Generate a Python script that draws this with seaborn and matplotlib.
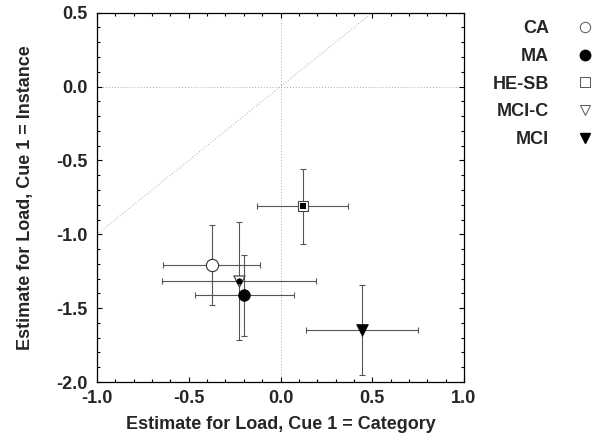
import matplotlib
matplotlib.use("Agg")
import matplotlib.pyplot as plt
import seaborn as sns
import pandas as pd
import numpy as np
from matplotlib.lines import Line2D
from matplotlib.ticker import MultipleLocator, FormatStrFormatter

# ---- data ----
groups = ["CA", "MA", "HE-SB", "MCI-C", "MCI"]
x_est = [-0.375, -0.197, 0.120, -0.224, 0.444]
y_est = [-1.207, -1.414, -0.809, -1.318, -1.648]
x_err = [0.263, 0.270, 0.250, 0.420, 0.307]
y_err = [0.269, 0.277, 0.254, 0.400, 0.303]

df = pd.DataFrame({"group": groups, "x": x_est, "y": y_est,
                   "xerr": x_err, "yerr": y_err})

sns.set_style("ticks")
plt.rcParams["font.family"] = ["Liberation Sans", "DejaVu Sans"]
plt.rcParams["font.weight"] = "bold"

FS = 13

fig = plt.figure(figsize=(6, 4.4), dpi=100)
ax = fig.add_axes([97 / 600, 1 - 382 / 440, 367 / 600, 369.3 / 440])

# reference lines
ref_kw = dict(color="#aaaaaa", lw=0.7, ls=(0, (1, 2)), zorder=0)
ax.axvline(0, **ref_kw)
ax.axhline(0, **ref_kw)
ax.axline((0, 0), slope=1, **ref_kw)

# error bars
ax.errorbar(df["x"], df["y"], xerr=df["xerr"], yerr=df["yerr"], fmt="none",
            ecolor="#555555", elinewidth=0.8, capsize=2.2, capthick=0.8, zorder=1)

styles = {
    "CA":    dict(marker="o", s=8.8 ** 2, facecolor="white", edgecolor="#333333", linewidth=0.8),
    "MA":    dict(marker="o", s=8.4 ** 2, facecolor="black", edgecolor="black", linewidth=0.5),
    "HE-SB": dict(marker="s", s=7.8 ** 2, facecolor="white", edgecolor="#444444", linewidth=0.8),
    "MCI-C": dict(marker="v", s=8.0 ** 2, facecolor="white", edgecolor="#333333", linewidth=0.8),
    "MCI":   dict(marker="v", s=8.5 ** 2, facecolor="black", edgecolor="black", linewidth=0.5),
}
for g in groups:
    sub = df[df["group"] == g]
    sns.scatterplot(data=sub, x="x", y="y", ax=ax, zorder=3, legend=False, **styles[g])

# small filled inner marks
inner = {"HE-SB": dict(marker="s", s=5.0 ** 2), "MCI-C": dict(marker="o", s=4.5 ** 2)}
for g, st in inner.items():
    sub = df[df["group"] == g]
    sns.scatterplot(data=sub, x="x", y="y", ax=ax, zorder=4, legend=False,
                    color="black", edgecolor="black", linewidth=0, **st)

ax.set_xlim(-1.0, 1.0)
ax.set_ylim(-2.0, 0.5)
ax.xaxis.set_major_locator(MultipleLocator(0.5))
ax.xaxis.set_minor_locator(MultipleLocator(0.1))
ax.yaxis.set_major_locator(MultipleLocator(0.5))
ax.yaxis.set_minor_locator(MultipleLocator(0.1))
ax.xaxis.set_major_formatter(FormatStrFormatter("%.1f"))
ax.yaxis.set_major_formatter(FormatStrFormatter("%.1f"))
ax.tick_params(which="both", direction="in", top=True, right=True, color="black", width=0.8)
ax.tick_params(which="major", length=3.8, labelsize=FS)
ax.tick_params(axis="x", which="major", pad=5.5)
ax.tick_params(axis="y", which="major", pad=7)
ax.tick_params(which="minor", length=2.2)
for lab in ax.get_xticklabels() + ax.get_yticklabels():
    lab.set_fontweight("bold")
for sp in ax.spines.values():
    sp.set_visible(True)
    sp.set_color("black")
    sp.set_linewidth(0.9)

ax.set_xlabel("Estimate for Load, Cue 1 = Category", fontsize=FS, fontweight="bold", labelpad=7)
ax.set_ylabel("Estimate for Load, Cue 1 = Instance", fontsize=FS, fontweight="bold", labelpad=16)

# legend
leg_style = {
    "CA":    dict(marker="o", markersize=7.5, markerfacecolor="white", markeredgecolor="#555555", markeredgewidth=0.7),
    "MA":    dict(marker="o", markersize=7.5, markerfacecolor="black", markeredgecolor="black"),
    "HE-SB": dict(marker="s", markersize=7.0, markerfacecolor="white", markeredgecolor="#555555", markeredgewidth=0.7),
    "MCI-C": dict(marker="v", markersize=7.5, markerfacecolor="white", markeredgecolor="#555555", markeredgewidth=0.7),
    "MCI":   dict(marker="v", markersize=7.5, markerfacecolor="black", markeredgecolor="black"),
}
handles = [Line2D([], [], ls="none", **leg_style[g]) for g in groups]
leg = fig.legend(handles, groups, loc="upper right", bbox_to_anchor=(594 / 600, 1 - 20 / 440),
                 frameon=False, markerfirst=False, handlelength=1.0, handletextpad=1.49,
                 labelspacing=0.6, borderpad=0, borderaxespad=0,
                 prop={"family": "Liberation Sans", "weight": "bold", "size": FS})

fig.savefig("out.png", dpi=100)
